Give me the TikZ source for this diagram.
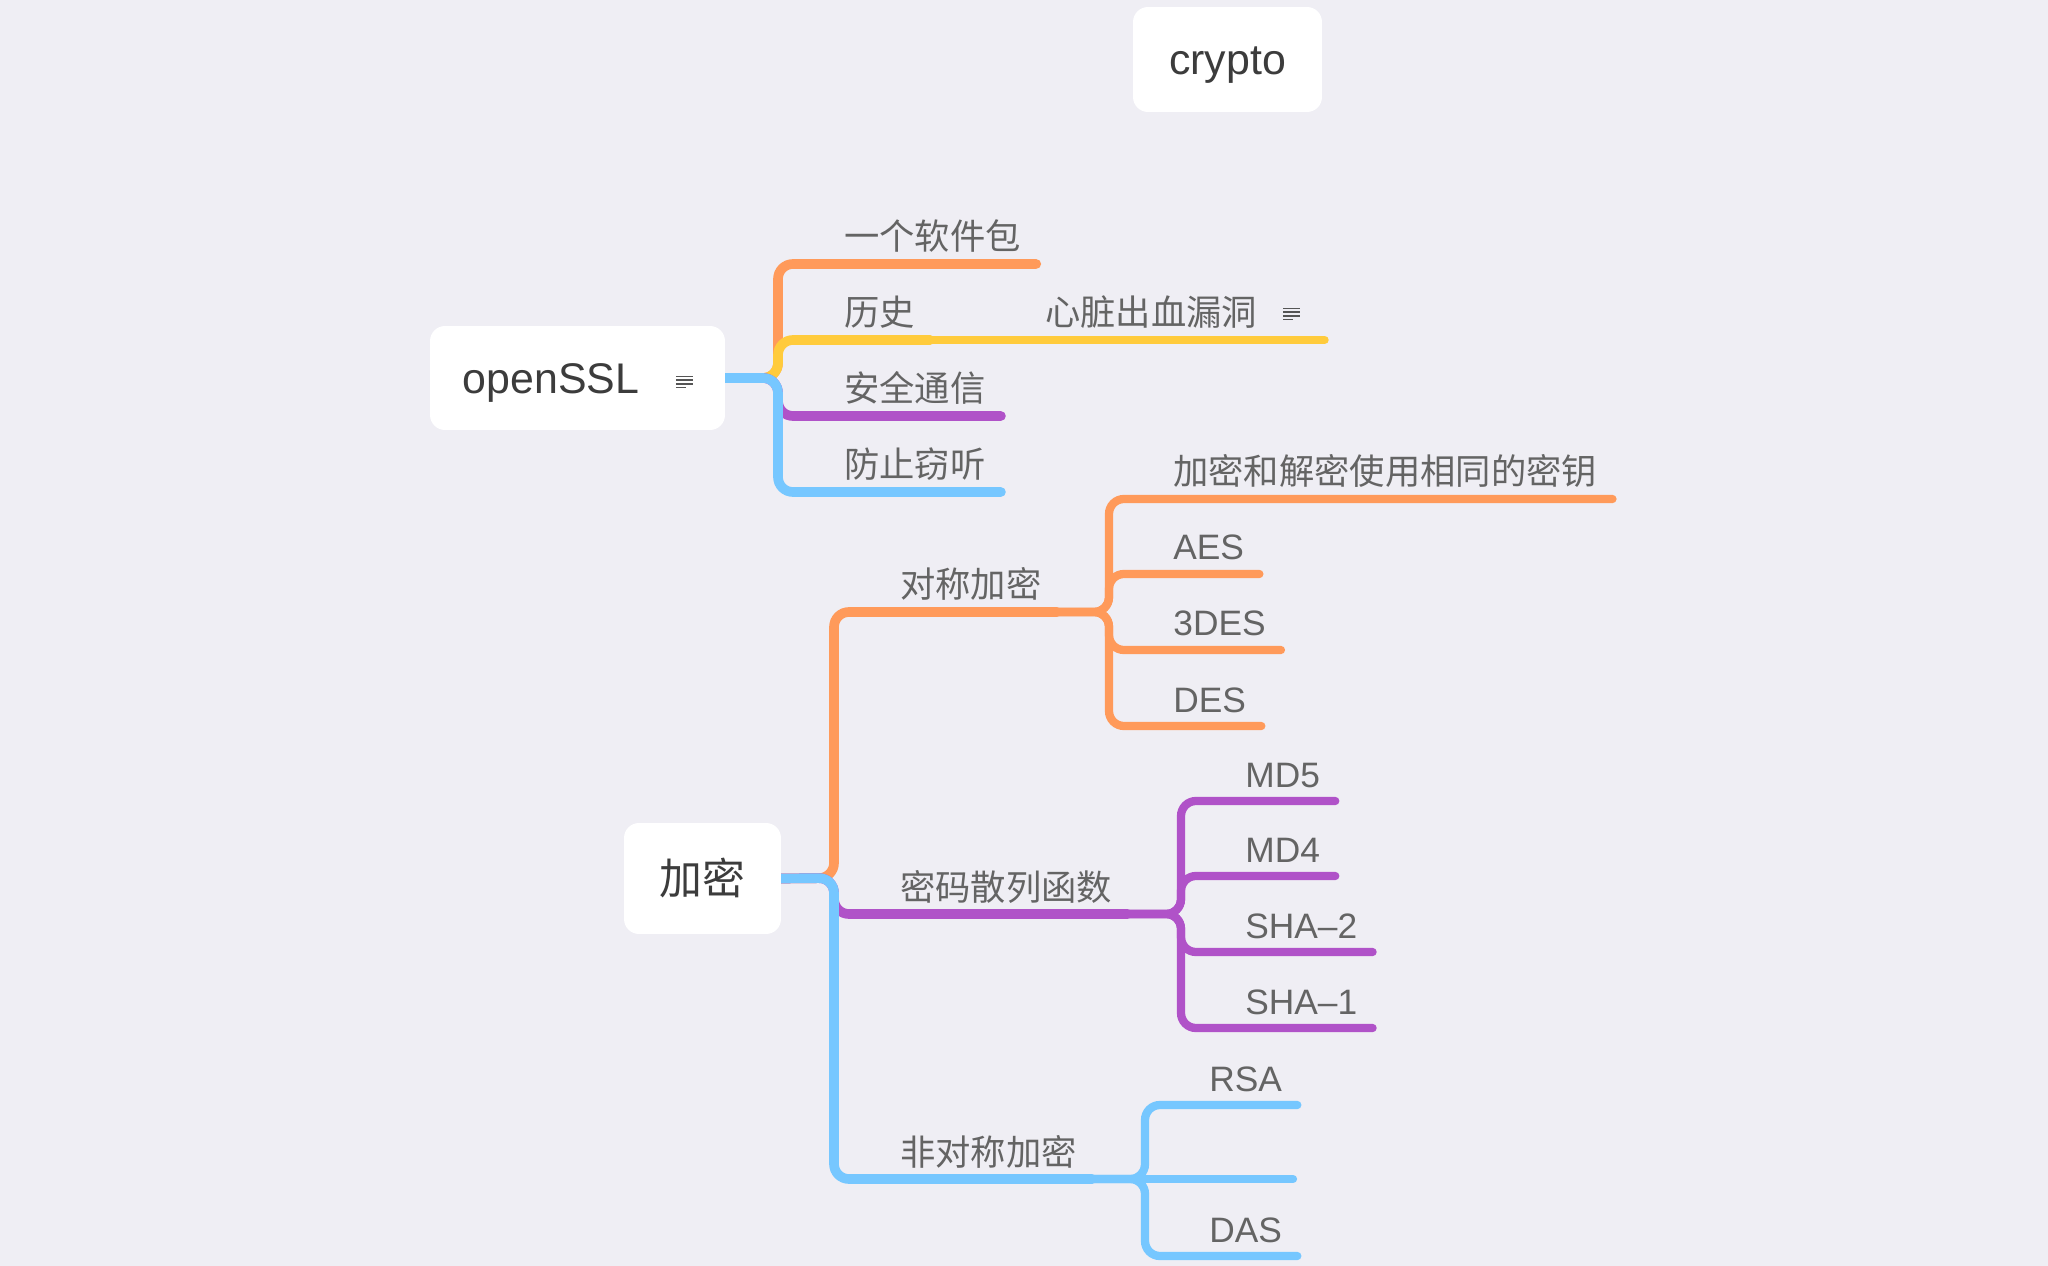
\documentclass[tikz,border=0pt]{standalone}
\usepackage{fontspec}
\setmainfont{Liberation Sans}
\newfontfamily\cjk{Noto Sans CJK SC}
\pgfdeclarelayer{bg}
\pgfdeclarelayer{lines}
\pgfsetlayers{bg,lines,main}
\definecolor{bgcol}{HTML}{EFEEF4}
\definecolor{orangebr}{HTML}{FF9A5A}
\definecolor{yellowbr}{HTML}{FFCB3C}
\definecolor{purplebr}{HTML}{B052C8}
\definecolor{bluebr}{HTML}{76C7FF}
\definecolor{roottext}{HTML}{3C3C3C}
\definecolor{labeltext}{HTML}{646464}
\definecolor{icongray}{HTML}{555555}

\newcommand\rootfont{\fontsize{24.4pt}{29pt}\selectfont}
\newcommand\labelfont{\fontsize{20.1pt}{24pt}\selectfont}

\tikzset{
  topic/.style={fill=white, rounded corners=0.3cm, text=roottext, font=\rootfont, inner sep=0pt},
  latintopic/.style={topic, text height=17.6pt, text depth=0pt},
  sub/.style={anchor=base west, inner sep=0pt, text=labeltext, font=\labelfont},
  branch/.style={line width=5.5pt, line cap=round, rounded corners=8.5pt},
  twig/.style={line width=4.7pt, line cap=round, rounded corners=8.5pt},
}

% little note sign behind a topic
\newcommand\noteicon[1]{%
  \foreach \dy in {-5.5,-1.8,1.8}
    \draw[icongray, line width=1.1pt] ([shift={(-8.5,\dy)}]#1) -- ++(17,0);
  \draw[icongray, line width=1.1pt] ([shift={(-8.5,5.5)}]#1) -- ++(10,0);
}

\begin{document}
\begin{tikzpicture}[x=0.02cm, y=-0.02cm]

\begin{pgfonlayer}{bg}
\fill[bgcol] (0,0) rectangle (2048,1266);
\end{pgfonlayer}
\useasboundingbox (0,0) rectangle (2048,1266);

%floating topic
\node[latintopic, minimum width=3.78cm, minimum height=2.1cm] (crypto) at (1227.5,59.5) {crypto};

%openSSL topic
\node[latintopic, minimum width=5.9cm, minimum height=2.08cm] (ssl) at (577.5,378) {openSSL\kern1.06cm};
\coordinate (sslnote) at ([shift={(-41,4)}]ssl.east);
\noteicon{sslnote}

%openSSL labels
\node[sub] (soft) at (844,250) {\cjk 一个软件包};
\node[sub] (hist) at (844,326) {\cjk 历史};
\node[sub] (heart) at (1045,326) {\cjk 心脏出血漏洞\kern1.04cm};
\node[sub] (safe) at (844,402) {\cjk 安全通信};
\node[sub] (spy) at (844,478) {\cjk 防止窃听};
\coordinate (heartnote) at ([shift={(-18,-12)}]heart.base east);
\noteicon{heartnote}

%encryption topic
\node[topic, minimum width=3.14cm, minimum height=2.22cm] (enc) at (702.5,878.5) {\cjk 加密};

%encryption labels
\node[sub] (sym) at (900,598) {\cjk 对称加密};
\node[sub] (hash) at (900,900) {\cjk 密码散列函数};
\node[sub] (asym) at (900,1165) {\cjk 非对称加密};

\node[sub] (same) at (1173,485) {\cjk 加密和解密使用相同的密钥};
\node[sub] (aes) at (1173,560) {AES};
\node[sub] (tdes) at (1173,636) {3DES};
\node[sub] (des) at (1173,712) {DES};

\node[sub] (md5) at (1245,787) {MD5};
\node[sub] (md4) at (1245,862) {MD4};
\node[sub] (sha2) at (1245,938) {SHA--2};
\node[sub] (sha1) at (1245,1014) {SHA--1};

\node[sub] (rsa) at (1209,1091) {RSA};
\coordinate (blank-e) at (1293,1179);
\node[sub] (das) at (1209,1242) {DAS};

%line ends under the labels
\foreach \n in {soft,hist,heart,safe,spy,sym,hash,asym,same,aes,tdes,des,md5,md4,sha2,sha1,rsa,das}
  \coordinate (\n-e) at ([shift={(15,14)}]\n.base east);

%trunks
\coordinate (sslJ) at (778,378);
\coordinate (encJ) at (834,878);
\coordinate (symT) at (1109,612);
\coordinate (hashT) at (1181,914);
\coordinate (asymT) at (1145,1179);

\begin{pgfonlayer}{lines}
%openSSL branches
\draw[branch, orangebr] (ssl.east) -- (sslJ) |- (soft-e);
\draw[branch, yellowbr] (ssl.east) -- (sslJ) |- (hist-e);
\draw[twig, yellowbr] (hist-e) -- (heart-e);
\draw[branch, purplebr] (ssl.east) -- (sslJ) |- (safe-e);
\draw[branch, bluebr] (ssl.east) -- (sslJ) |- (spy-e);

%encryption branches
\draw[branch, orangebr] (enc.east) -- (encJ) |- (sym-e);
\draw[branch, purplebr] (enc.east) -- (encJ) |- (hash-e);
\draw[branch, bluebr] (enc.east) -- (encJ) |- (asym-e);

%sub branches
\foreach \n in {same,aes,tdes,des}
  \draw[twig, orangebr] (sym-e) -| (symT |- \n-e) -- (\n-e);
\foreach \n in {md5,md4,sha2,sha1}
  \draw[twig, purplebr] (hash-e) -| (hashT |- \n-e) -- (\n-e);
\foreach \n in {rsa,das}
  \draw[twig, bluebr] (asym-e) -| (asymT |- \n-e) -- (\n-e);
\draw[twig, bluebr] (asym-e) -- (blank-e);
\end{pgfonlayer}

\end{tikzpicture}
\end{document}
